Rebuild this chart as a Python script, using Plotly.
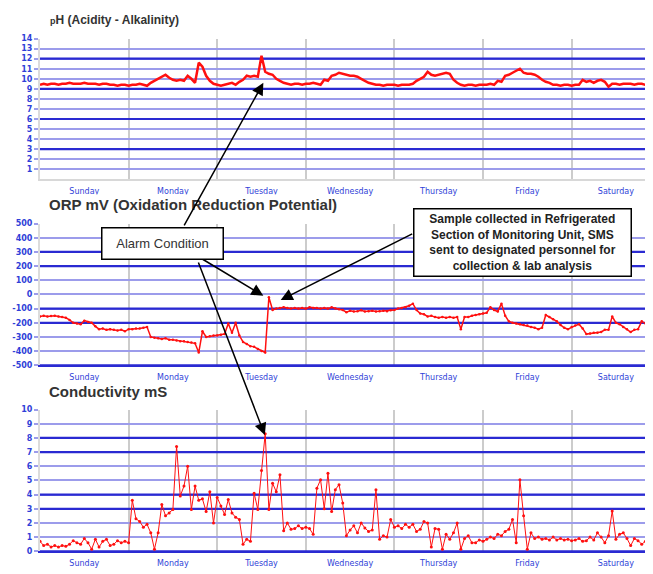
import plotly.graph_objects as go

# ---------------- data ----------------
days = ["Sunday", "Monday", "Tuesday", "Wednesday", "Thursday", "Friday", "Saturday"]
day_centres = [12, 36, 60, 84, 108, 132, 156]
day_bounds = [24, 48, 72, 96, 120, 144]

hours = list(range(167))

ph = [9.4, 9.5, 9.4, 9.5, 9.5, 9.4, 9.5, 9.5, 9.6, 9.5,
      9.5, 9.5, 9.6, 9.5, 9.5, 9.5, 9.4, 9.5, 9.5, 9.4,
      9.4, 9.3, 9.4, 9.4, 9.3, 9.4, 9.4, 9.5, 9.4, 9.3,
      9.6, 9.8, 10.0, 10.2, 10.4, 10.1, 9.9, 9.8, 9.9, 9.8,
      10.3, 10.0, 9.6, 11.6, 11.2, 10.3, 9.8, 9.5, 9.4, 9.3,
      9.4, 9.5, 9.6, 9.4, 9.7, 9.9, 10.3, 10.2, 10.3, 10.2,
      12.3, 10.7, 10.5, 10.4, 10.0, 9.8, 9.6, 9.5, 9.4, 9.5,
      9.5, 9.4, 9.5, 9.5, 9.6, 9.5, 9.4, 9.9, 9.8, 10.3,
      10.4, 10.6, 10.5, 10.4, 10.3, 10.3, 10.2, 10.0, 9.8, 9.6,
      9.5, 9.4, 9.4, 9.3, 9.4, 9.4, 9.4, 9.3, 9.4, 9.4,
      9.4, 9.5, 9.8, 10.0, 10.2, 10.7, 10.4, 10.3, 10.4, 10.5,
      10.6, 10.5, 9.9, 9.6, 9.4, 9.3, 9.4, 9.4, 9.3, 9.4,
      9.4, 9.4, 9.5, 9.4, 9.8, 9.7, 10.3, 10.4, 10.6, 10.8,
      11.0, 10.6, 10.5, 10.5, 10.4, 10.2, 9.9, 9.7, 9.6, 9.4,
      9.4, 9.3, 9.4, 9.4, 9.3, 9.4, 9.4, 9.9, 9.7, 9.8,
      9.6, 9.8, 9.9, 9.7, 9.2, 9.5, 9.5, 9.4, 9.5, 9.5,
      9.5, 9.4, 9.5, 9.5, 9.4, 9.5, 9.4]

orp = [-155, -150, -155, -152, -150, -155, -160, -165, -180, -200,
       -205, -210, -185, -195, -200, -225, -245, -240, -250, -245,
       -250, -255, -250, -260, -245, -245, -240, -240, -235, -230,
       -300, -305, -310, -315, -310, -320, -320, -325, -330, -330,
       -335, -340, -345, -410, -260, -300, -295, -290, -290, -285,
       -280, -205, -270, -200, -290, -335, -350, -365, -370, -385,
       -400, -410, -20, -110, -100, -95, -90, -95, -100, -95,
       -100, -95, -100, -90, -95, -95, -100, -95, -100, -90,
       -100, -105, -110, -125, -115, -120, -118, -112, -120, -118,
       -115, -120, -118, -115, -118, -112, -110, -100, -95, -90,
       -80, -65, -110, -135, -140, -155, -150, -160, -165, -160,
       -165, -160, -165, -160, -245, -160, -160, -150, -145, -140,
       -135, -130, -90, -110, -120, -65, -150, -190, -200, -205,
       -210, -215, -220, -230, -235, -245, -235, -145, -160, -175,
       -190, -215, -235, -245, -230, -220, -210, -240, -280, -275,
       -270, -270, -265, -250, -250, -155, -200, -210, -230, -245,
       -265, -250, -245, -190, -205, -210, -220]

cond = [0.7, 0.4, 0.5, 0.3, 0.4, 0.3, 0.4, 0.35, 0.5, 0.75,
        0.6, 0.5, 0.9, 0.6, 0.15, 0.85, 0.3, 0.7, 0.85, 0.4,
        0.5, 0.75, 0.6, 0.7, 0.6, 3.6, 2.3, 2.1, 1.7, 1.9,
        1.3, 0.15, 1.3, 3.3, 2.5, 2.7, 2.95, 7.4, 3.9, 4.6,
        6.0, 2.95, 4.6, 3.6, 3.7, 2.8, 4.2, 2.0, 3.8, 3.2,
        2.6, 3.65, 2.7, 2.4, 2.25, 0.5, 0.85, 0.7, 4.1, 2.95,
        5.7, 8.3, 2.95, 4.8, 4.2, 5.4, 1.45, 2.0, 1.55, 1.6,
        1.8, 1.6, 1.7, 1.6, 1.2, 4.45, 5.05, 3.0, 5.5, 2.8,
        4.35, 4.7, 3.4, 1.1, 1.5, 1.8, 1.3, 2.0, 1.65, 1.4,
        1.5, 4.35, 0.85, 1.1, 1.0, 2.25, 1.7, 1.8, 1.6, 1.9,
        1.7, 1.9, 1.4, 1.55, 2.1, 2.0, 0.3, 1.6, 1.55, 0.15,
        1.2, 0.85, 1.3, 2.0, 0.15, 0.9, 1.1, 0.6, 0.6, 0.8,
        0.7, 0.85, 1.0, 0.9, 1.2, 1.1, 1.4, 1.55, 2.25, 0.6,
        5.05, 2.5, 0.15, 1.3, 0.9, 1.0, 0.85, 0.9, 0.8, 1.0,
        0.8, 0.9, 0.8, 0.85, 0.75, 0.8, 0.9, 0.7, 0.75, 1.0,
        0.8, 1.3, 1.0, 0.6, 1.1, 2.85, 0.85, 1.2, 1.3, 0.9,
        0.4, 0.9, 0.75, 0.5, 0.7, 0.5, 0.4]

ph_ticks = list(range(1, 15))
ph_dark = [3, 6, 9, 12]
orp_ticks = [500, 400, 300, 200, 100, 0, -100, -200, -300, -400, -500]
orp_dark = [300, 200, -100, -200, -500]
cond_ticks = list(range(0, 11))
cond_dark = [0, 3, 4, 7, 8]

titles = ["<span style='font-size:9px'>p</span>H (Acidity - Alkalinity)",
          "ORP mV (Oxidation Reduction Potential)",
          "Conductivity mS"]
alarm_text = "Alarm Condition"
sample_text = ("Sample collected in Refrigerated<br>Section of Monitoring Unit, SMS<br>"
               "sent to designated personnel for<br>collection & lab analysis")

# ---------------- styling ----------------
OFF = 8                      # page body margin
W, H = 653 - OFF, 574 - OFF
LIGHT = "#9c9ceb"
DARK = "#2a2ad2"
TICKBLUE = "#2f3fd8"
RED = "#ff1010"


def px(p):
    return (p - OFF) / W


def py(p):
    return 1 - (p - OFF) / H


xdom = [px(40), 1.0]
xmax = (653 - 40) / 88.6 * 24

fig = go.Figure()

# darker horizontal grid lines, drawn as line traces beneath the data
for xa, ya, vals in (("x", "y", ph_dark), ("x2", "y2", orp_dark), ("x3", "y3", cond_dark)):
    gx, gy = [], []
    for v in vals:
        gx += [-2, xmax + 2, None]
        gy += [v, v, None]
    fig.add_trace(go.Scatter(x=gx, y=gy, mode="lines", line=dict(color=DARK, width=2.2),
                             xaxis=xa, yaxis=ya, showlegend=False, hoverinfo="skip"))

fig.add_trace(go.Scatter(x=hours, y=ph, mode="lines", line=dict(color=RED, width=2.5),
                         xaxis="x", yaxis="y", showlegend=False))
fig.add_trace(go.Scatter(x=hours, y=orp, mode="lines+markers", line=dict(color=RED, width=1.5),
                         marker=dict(size=2.5, color=RED), xaxis="x2", yaxis="y2", showlegend=False))
fig.add_trace(go.Scatter(x=hours, y=cond, mode="lines+markers", line=dict(color=RED, width=1),
                         marker=dict(size=3, color=RED), xaxis="x3", yaxis="y3", showlegend=False))


def xaxis(anchor, linecolor):
    return dict(domain=xdom, range=[0, xmax], anchor=anchor,
                tickmode="array", tickvals=day_centres, ticktext=days,
                ticks="outside", ticklen=3, tickcolor="rgba(0,0,0,0)",
                tickfont=dict(family="DejaVu Sans", size=8, color=TICKBLUE),
                showgrid=False, zeroline=False, showline=True, linecolor=linecolor, linewidth=2,
                minor=dict(tickmode="array", tickvals=day_bounds, showgrid=True,
                           gridcolor="#cccccc", gridwidth=1.5, ticks=""))


def yaxis(dom, rng, ticks, anchor):
    return dict(domain=dom, range=rng, anchor=anchor,
                tickmode="array", tickvals=ticks, ticktext=[str(t) for t in ticks],
                ticks="outside", ticklen=4, tickwidth=1.5, tickcolor=LIGHT,
                tickfont=dict(family="DejaVu Sans", size=8, color=TICKBLUE, weight="bold"),
                showgrid=True, gridcolor=LIGHT, gridwidth=1.5, zeroline=False,
                showline=True, linecolor="#dcdcdc", linewidth=2)


fig.update_layout(
    width=W, height=H, margin=dict(l=0, r=0, t=0, b=0),
    paper_bgcolor="white", plot_bgcolor="white",
    xaxis=xaxis("y", "#d8d8d8"), xaxis2=xaxis("y2", DARK), xaxis3=xaxis("y3", DARK),
    yaxis=yaxis([py(178), py(35)], [0, 14], ph_ticks, "x"),
    yaxis2=yaxis([py(367), py(223)], [-500, 500], orp_ticks, "x2"),
    yaxis3=yaxis([py(556), py(412)], [0, 10], cond_ticks, "x3"),
)

ann = []
tfont = dict(family="Arial", color="#333333", weight="bold")
ann.append(dict(xref="paper", yref="paper", x=px(48), y=py(16), xanchor="left", yanchor="middle",
                text=titles[0], showarrow=False, font=dict(tfont, size=12)))
ann.append(dict(xref="paper", yref="paper", x=px(47), y=py(204), xanchor="left", yanchor="middle",
                text=titles[1], showarrow=False, font=dict(tfont, size=15), bgcolor="white"))
ann.append(dict(xref="paper", yref="paper", x=px(47), y=py(394), xanchor="left", yanchor="middle",
                text=titles[2], showarrow=False, font=dict(tfont, size=15)))

# arrows
arrow = dict(showarrow=True, arrowhead=2, arrowsize=1.6, arrowwidth=1.5, arrowcolor="black", text="")
ann.append(dict(arrow, xref="x", yref="y", x=60.5, y=9.6, ax=-80, ay=144))
ann.append(dict(arrow, xref="x2", yref="y2", x=60.5, y=-10, ax=-63, ay=-38))
ann.append(dict(arrow, xref="x3", yref="y3", x=60.9, y=8.2, ax=-67, ay=-174))
ann.append(dict(arrow, xref="x2", yref="y2", x=65.2, y=-40, ax=133, ay=-67))

# boxes
ann.append(dict(xref="paper", yref="paper", x=px(162), y=py(243), xanchor="center", yanchor="middle",
                text=alarm_text, showarrow=False, bgcolor="white", bordercolor="black", borderwidth=1.5,
                width=118, height=28, font=dict(family="Arial", size=13, color="#333333")))
ann.append(dict(xref="paper", yref="paper", x=px(522), y=py(242), xanchor="center", yanchor="middle",
                text=sample_text, showarrow=False, bgcolor="white", bordercolor="black", borderwidth=1.5,
                width=214, height=64, font=dict(family="Arial", size=12, color="#222222", weight="bold")))
fig.update_layout(annotations=ann)

fig.write_html("out.html")
